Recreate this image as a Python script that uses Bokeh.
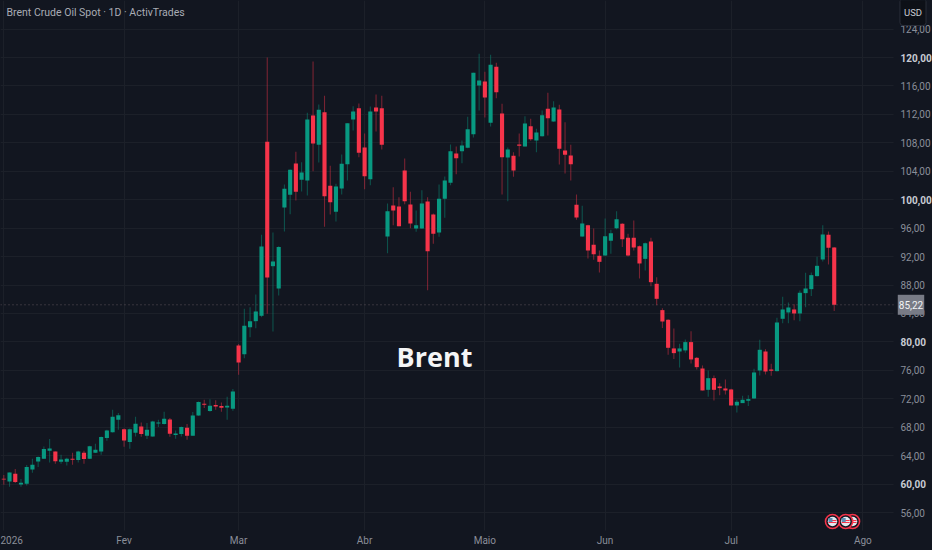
from bokeh.plotting import figure
from bokeh.models import ColumnDataSource, FixedTicker, LinearAxis, Label, Grid
from bokeh.embed import file_html
from bokeh.resources import INLINE

opens = [60.75,60.38,61.45,59.95,60.05,62.06,63.19,63.56,64.69,64.59,63.14,63.14,63.56,63.38,64.41,63.56,64.41,64.59,66.47,67.31,
69.05,67.73,65.91,67.22,68.11,66.80,66.70,68.53,68.44,69.09,66.89,67.03,67.92,66.80,69.66,71.30,70.27,71.11,70.97,70.78,
70.59,79.49,78.27,82.07,82.92,83.67,108.14,90.65,87.51,98.90,100.69,105.09,102.80,102.70,111.84,107.72,112.31,101.95,98.29,101.58,
105.00,111.28,112.87,107.34,102.89,112.97,112.87,94.83,99.19,99.04,104.11,99.33,95.95,95.95,99.75,97.92,95.39,100.12,102.37,106.50,
106.83,107.30,109.22,116.06,116.62,110.81,118.69,112.12,105.94,106.17,107.76,107.48,110.34,108.33,108.94,112.78,111.00,112.69,106.92,106.22,
99.28,94.83,96.42,93.65,92.11,92.15,94.22,96.00,96.61,94.64,94.64,93.47,91.68,94.12,88.17,84.47,83.11,79.08,78.65,78.80,
79.97,77.76,76.26,73.26,74.90,73.73,73.45,73.31,71.06,71.39,71.72,72.04,75.98,78.65,76.12,75.89,83.25,84.14,84.56,84.00,
86.86,87.42,89.25,91.59,95.06,93.28]
highs = [61.27,61.64,62.11,60.70,62.67,63.56,63.89,65.30,66.33,64.59,64.13,63.70,64.41,64.69,64.69,65.39,65.67,66.70,67.64,70.45,
69.99,67.83,67.83,69.47,68.67,68.58,68.91,69.05,70.17,69.28,67.55,68.11,68.44,70.13,71.63,71.86,71.95,71.81,71.49,72.28,
73.36,79.70,84.65,84.89,86.67,95.06,120.00,95.39,93.47,102.14,104.25,106.73,105.28,112.22,119.44,113.39,114.61,104.76,102.23,106.36,
110.76,113.16,113.53,109.31,113.11,114.80,114.61,99.47,101.76,100.36,105.80,101.11,98.48,101.34,100.36,98.06,102.14,103.26,107.76,107.48,
108.33,111.66,117.84,120.52,117.98,120.38,119.25,113.48,107.34,106.69,109.31,111.75,111.37,109.97,112.55,115.03,113.86,113.34,110.91,107.72,
100.73,99.14,96.47,95.95,92.86,97.36,95.76,98.39,96.70,95.20,97.08,93.56,93.98,94.64,89.11,84.75,83.20,81.89,79.73,80.34,
81.51,77.86,76.69,75.98,75.28,74.20,74.72,73.40,71.86,72.42,72.51,76.22,80.30,78.98,76.92,83.39,86.34,85.55,85.31,87.23,
89.72,89.76,91.97,96.42,95.53,93.33]
lows = [59.91,59.62,60.14,59.62,59.81,61.59,62.39,63.52,63.05,62.86,62.86,62.63,62.72,63.05,62.86,63.52,64.36,64.13,66.09,67.27,
67.64,65.25,64.97,66.70,66.66,66.33,66.66,68.02,68.39,66.66,66.38,66.70,66.24,66.80,69.61,70.69,70.17,70.45,70.17,69.05,
70.31,75.37,77.70,80.67,81.93,83.48,83.95,81.47,86.53,95.53,97.97,99.89,101.15,100.59,104.01,105.23,96.18,97.92,96.94,100.73,
102.70,109.73,105.98,101.48,102.04,109.59,107.06,92.48,96.42,96.28,99.37,96.00,95.48,95.90,87.28,93.79,94.78,97.45,102.04,103.59,
105.14,107.25,108.75,112.55,111.56,110.30,114.28,100.73,99.79,103.22,106.08,107.48,108.28,106.69,108.89,109.03,110.95,104.95,103.69,102.70,
97.17,94.78,91.73,91.54,89.76,92.10,92.39,95.86,93.33,92.01,92.86,88.92,90.04,87.84,85.17,81.94,78.19,77.58,76.40,78.47,
76.97,76.12,73.17,72.28,71.76,72.51,72.61,71.06,70.08,71.39,70.97,72.00,75.28,75.42,75.23,75.84,82.64,82.64,83.06,82.92,
84.89,86.44,89.20,91.31,90.89,84.33]
closes = [60.66,61.64,60.28,60.19,62.39,62.72,63.80,64.92,65.02,63.23,63.47,63.56,63.42,64.59,63.52,65.34,64.83,66.61,67.55,69.47,
69.70,66.14,67.73,68.49,67.03,67.64,68.81,68.67,69.19,67.08,67.13,68.02,66.80,69.66,71.53,71.16,71.02,70.92,70.74,71.02,
73.03,77.10,82.26,82.92,84.28,93.42,89.06,91.31,93.33,101.53,104.20,101.11,103.83,111.28,107.90,112.64,100.50,99.65,101.86,105.05,
110.76,112.41,106.59,103.31,112.41,112.41,107.72,98.39,98.48,96.28,99.79,96.65,96.42,99.47,92.76,95.20,100.12,102.70,106.83,105.84,
107.62,109.92,117.84,116.77,114.37,118.97,115.12,105.98,107.06,104.11,107.58,110.72,108.51,109.45,111.89,111.47,112.97,107.15,106.31,105.00,
97.50,96.65,92.86,92.34,91.26,94.87,95.29,97.26,94.45,92.15,93.28,91.03,93.89,88.40,86.06,82.87,79.17,78.42,79.08,79.97,
77.53,76.45,73.17,74.90,73.26,73.50,73.17,71.06,71.58,71.86,71.95,75.70,78.89,75.84,75.94,82.73,84.56,84.84,84.00,86.91,
87.51,89.39,90.70,95.11,93.23,85.22]

month_ticks = [0, 21, 41, 63, 84, 105, 127, 150]
month_labels = ["2026", "Fev", "Mar", "Abr", "Maio", "Jun", "Jul", "Ago"]
price_ticks = [56, 64, 68, 72, 76, 84, 88, 92, 96, 104, 108, 112, 116, 124]
strong_ticks = [60, 80, 100, 120]
last_price = 85.22
event_positions = [148.2, 147.0, 144.7]
event_level = 54.74

BG, GRID = "#121620", "#1c2029"
UP, DOWN = "#089981", "#f6344a"
STEP = 5.727
X0, PPU, Y120 = 3.3, 7.11, 57.0
fx = lambda px: (px - X0) / STEP
fy = lambda py: 120 - (py - Y120) / PPU
fmt = lambda v: f"{v:.2f}".replace(".", ",")

p = figure(width=932, height=550, output_backend="svg", toolbar_location=None,
           x_range=(fx(0), fx(932)), y_range=(fy(550), fy(0)),
           min_border=0, background_fill_color=BG, border_fill_color=BG,
           outline_line_color=BG, outline_line_alpha=0,
           x_axis_location=None, y_axis_location=None)
p.styles = {"position": "fixed", "left": "0px", "top": "0px", "background-color": BG}
p.center = []

def style_axis(a, color="#8a8e99", weight="normal"):
    a.axis_line_color = None
    a.major_tick_line_color = None
    a.minor_tick_line_color = None
    a.major_tick_in = a.major_tick_out = a.minor_tick_in = a.minor_tick_out = 0
    a.major_label_text_color = color
    a.major_label_text_font = "Roboto"
    a.major_label_text_font_size = "10px"
    a.major_label_text_font_style = weight

xa = LinearAxis(ticker=FixedTicker(ticks=month_ticks), fixed_location=fy(530),
                major_label_overrides=dict(zip(month_ticks, month_labels)), major_label_standoff=4)
ya = LinearAxis(ticker=FixedTicker(ticks=price_ticks), fixed_location=fx(893),
                major_label_overrides={v: fmt(v) for v in price_ticks}, major_label_standoff=7)
yb = LinearAxis(ticker=FixedTicker(ticks=strong_ticks), fixed_location=fx(893),
                major_label_overrides={v: fmt(v) for v in strong_ticks}, major_label_standoff=7)
style_axis(xa)
style_axis(ya)
style_axis(yb, "#c8cbd3", "bold")
p.add_layout(xa, "below")
p.add_layout(ya, "right")
p.add_layout(yb, "right")

p.add_layout(Grid(dimension=0, ticker=FixedTicker(ticks=month_ticks), grid_line_color=GRID))
p.add_layout(Grid(dimension=1, ticker=FixedTicker(ticks=sorted(price_ticks + strong_ticks)), grid_line_color=GRID))

# strips that hold the scales: the grid stops where they begin
p.quad(left=[fx(893)], right=[fx(940)], bottom=[fy(560)], top=[fy(-10)], fill_color=BG, line_color=None)
p.quad(left=[fx(-10)], right=[fx(940)], bottom=[fy(560)], top=[fy(530)], fill_color=BG, line_color=None)

src = ColumnDataSource(dict(
    x=list(range(len(opens))), o=opens, h=highs, l=lows, c=closes,
    color=[UP if c > o else DOWN for o, c in zip(opens, closes)],
))
p.segment("x", "h", "x", "l", source=src, line_color="color", line_alpha=0.45, line_width=1.1)
p.vbar("x", 0.72, "o", "c", source=src, fill_color="color", line_color=None)

p.line([fx(0), fx(893)], [last_price, last_price], line_color="#70626a", line_alpha=0.8,
       line_dash="1 3", line_width=1)

def note(px, py, text, **kw):
    p.add_layout(Label(x=fx(px), y=fy(py), text=text, text_baseline="middle", **kw))

note(6, 12, "Brent Crude Oil Spot · 1D · ActivTrades", text_color="#a9acb5", text_font="Roboto",
     text_font_size="10.5px")
note(434, 356, "Brent", text_color="#f4f5f6", text_font="Open Sans", text_font_size="27px",
     text_font_style="bold", text_align="center")
note(912.5, 11.5, "USD", text_color="#c8cbd3", text_font="Roboto", text_font_size="9.5px", text_align="center",
     background_fill_color="#0d1017", border_line_color="#2a2e39", border_radius=3, padding=(4, 8))
p.add_layout(Label(x=fx(910.5), y=last_price, text=fmt(last_price), text_baseline="middle",
                   text_color="#f2f3f5", text_font="Roboto", text_font_size="10px", text_align="center",
                   background_fill_color="#787b86", padding=(1, 6)))

dx, dy = 1 / STEP, 1 / PPU
for e in event_positions:
    p.scatter([e], [event_level], marker="circle", size=14, fill_color=BG, line_color=DOWN, line_width=1.6)
    p.scatter([e], [event_level], marker="circle", size=9.5, fill_color="#e4e8ee", line_color=None)
    p.rect([e + dx], [event_level + dy], width=6 * dx, height=1 * dy, fill_color=DOWN, line_color=None)
    p.rect([e], [event_level - dy], width=8 * dx, height=1 * dy, fill_color=DOWN, line_color=None)
    p.rect([e - 2 * dx], [event_level + 1.5 * dy], width=4 * dx, height=4 * dy, fill_color="#5b8fb5", line_color=None)

open("out.html", "w").write(file_html(p, INLINE))
